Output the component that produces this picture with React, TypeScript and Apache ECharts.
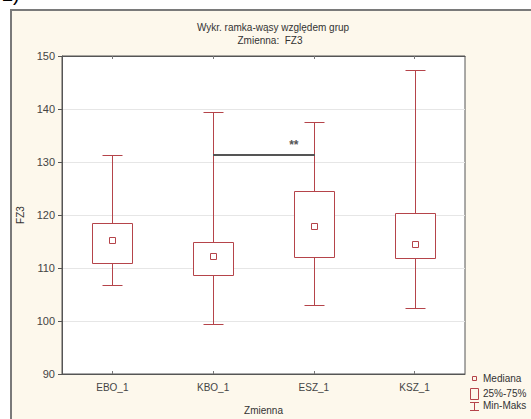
import React, { useEffect, useRef } from "react";
import * as echarts from "echarts";

const categories = ["EBO_1", "KBO_1", "ESZ_1", "KSZ_1"];
const minVals = [106.8, 99.5, 103.0, 102.5];
const q1Vals = [111.0, 108.6, 112.1, 111.9];
const medianVals = [115.3, 112.2, 117.9, 114.5];
const q3Vals = [118.4, 114.9, 124.6, 120.3];
const maxVals = [131.3, 139.4, 137.6, 147.4];
const sigFrom = [1];
const sigTo = [2];
const sigLevel = [131.4];
const sigLabel = ["**"];
const legendLabels = ["Mediana", "25%-75%", "Min-Maks"];

const RED = "#b5444a";
const FONT = "Liberation Sans, Arial, sans-serif";

const crisp = (v: number) => Math.round(v) + 0.5;

export default function App() {
  const ref = useRef<HTMLDivElement>(null);
  useEffect(() => {
    if (!ref.current) return;
    const chart = echarts.init(ref.current, undefined, { renderer: "svg" });
    const boxData = categories.map((_, i) => [i, minVals[i], q1Vals[i], medianVals[i], q3Vals[i], maxVals[i]]);
    const sigData = sigFrom.map((f, i) => [f, sigTo[i], sigLevel[i]]);
    const option: any = {
      animation: false,
      backgroundColor: "transparent",
      textStyle: { fontFamily: FONT },
      grid: {
        left: 62,
        right: 66,
        top: 56,
        bottom: 45,
        outerBoundsMode: "none",
        containLabel: false,
        show: true,
        backgroundColor: "#ffffff",
        borderColor: "#555",
        borderWidth: 1,
      },
      xAxis: [
        {
          type: "category",
          data: categories,
          boundaryGap: true,
          name: "Zmienna",
          nameLocation: "middle",
          nameGap: 31,
          nameTextStyle: { fontSize: 10, color: "#333", fontFamily: FONT },
          axisLine: { show: true, lineStyle: { color: "#555", width: 1 } },
          axisTick: { show: true, alignWithLabel: true, inside: true, length: 3, lineStyle: { color: "#777" } },
          axisLabel: { fontSize: 10, color: "#444", margin: 8, fontFamily: FONT },
          splitLine: { show: false },
        },
        {
          type: "category",
          data: categories,
          position: "top",
          boundaryGap: true,
          axisLine: { show: true, lineStyle: { color: "#555", width: 1 } },
          axisTick: { show: true, alignWithLabel: true, inside: true, length: 3, lineStyle: { color: "#777" } },
          axisLabel: { show: false },
          splitLine: { show: false },
        },
      ],
      yAxis: {
        type: "value",
        min: 90,
        max: 150,
        interval: 10,
        name: "FZ3",
        nameLocation: "middle",
        nameGap: 35,
        nameTextStyle: { fontSize: 10, color: "#333", fontFamily: FONT },
        axisLine: { show: true, lineStyle: { color: "#555", width: 1 } },
        axisTick: { show: true, inside: false, length: 4, lineStyle: { color: "#555" } },
        axisLabel: { fontSize: 11, color: "#444", margin: 7, fontFamily: FONT },
        splitLine: { show: true, lineStyle: { color: "#e6e6e6", width: 1 } },
      },
      graphic: [
        {
          type: "text",
          left: 2,
          top: -16,
          style: { text: "2)", fontSize: 20, fill: "#000", fontFamily: FONT },
        },
        {
          type: "text",
          x: 273,
          y: 27,
          style: { text: "Wykr. ramka-wąsy względem grup", fontSize: 10, fill: "#333", fontFamily: FONT, textAlign: "center", textVerticalAlign: "middle" },
        },
        {
          type: "text",
          x: 270,
          y: 40,
          style: { text: "Zmienna:  FZ3", fontSize: 10, fill: "#333", fontFamily: FONT, textAlign: "center", textVerticalAlign: "middle" },
        },
        { type: "rect", shape: { x: 472.5, y: 376.5, width: 4, height: 4 }, style: { fill: "none", stroke: RED, lineWidth: 1 } },
        { type: "rect", shape: { x: 470.5, y: 388.5, width: 8, height: 11 }, style: { fill: "none", stroke: RED, lineWidth: 1 } },
        { type: "line", shape: { x1: 474.5, y1: 402, x2: 474.5, y2: 411 }, style: { stroke: RED, lineWidth: 1 } },
        { type: "line", shape: { x1: 470, y1: 402.5, x2: 479, y2: 402.5 }, style: { stroke: RED, lineWidth: 1 } },
        { type: "line", shape: { x1: 470, y1: 410.5, x2: 479, y2: 410.5 }, style: { stroke: RED, lineWidth: 1 } },
        { type: "text", x: 483, y: 378.5, style: { text: legendLabels[0], fontSize: 10, fill: "#333", fontFamily: FONT, textVerticalAlign: "middle" } },
        { type: "text", x: 483, y: 393, style: { text: legendLabels[1], fontSize: 10, fill: "#333", fontFamily: FONT, textVerticalAlign: "middle" } },
        { type: "text", x: 483, y: 405, style: { text: legendLabels[2], fontSize: 10, fill: "#333", fontFamily: FONT, textVerticalAlign: "middle" } },
      ],
      series: [
        {
          type: "custom",
          name: "box",
          xAxisIndex: 0,
          yAxisIndex: 0,
          data: boxData,
          encode: { x: 0, y: [1, 2, 3, 4, 5] },
          renderItem: (params: any, api: any) => {
            const i = api.value(0);
            const pMin = api.coord([i, api.value(1)]);
            const pQ1 = api.coord([i, api.value(2)]);
            const pMed = api.coord([i, api.value(3)]);
            const pQ3 = api.coord([i, api.value(4)]);
            const pMax = api.coord([i, api.value(5)]);
            const band = api.size([1, 0])[0];
            const bw = Math.round(band * 0.4);
            const cw = Math.round(band * 0.2);
            const x = crisp(pMin[0]);
            const ms = 6;
            const ls = { stroke: RED, lineWidth: 1, fill: "none" };
            const yMax = crisp(pMax[1]);
            const yQ3 = crisp(pQ3[1]);
            const yQ1 = crisp(pQ1[1]);
            const yMin = crisp(pMin[1]);
            const yMed = Math.round(pMed[1]);
            return {
              type: "group",
              children: [
                { type: "line", shape: { x1: x, y1: yMax, x2: x, y2: yQ3 }, style: ls },
                { type: "line", shape: { x1: x, y1: yQ1, x2: x, y2: yMin }, style: ls },
                { type: "line", shape: { x1: x - cw / 2, y1: yMax, x2: x + cw / 2, y2: yMax }, style: ls },
                { type: "line", shape: { x1: x - cw / 2, y1: yMin, x2: x + cw / 2, y2: yMin }, style: ls },
                { type: "rect", shape: { x: x - bw / 2, y: yQ3, width: bw, height: yQ1 - yQ3 }, style: { stroke: RED, lineWidth: 1, fill: "#fff" } },
                { type: "rect", shape: { x: x - ms / 2, y: yMed - ms / 2 + 0.5, width: ms, height: ms }, style: { stroke: RED, lineWidth: 1, fill: "#fff" } },
              ],
            };
          },
          z: 3,
        },
        {
          type: "custom",
          name: "sig",
          xAxisIndex: 0,
          yAxisIndex: 0,
          data: sigData,
          encode: { x: [0, 1], y: 2 },
          renderItem: (params: any, api: any) => {
            const p1 = api.coord([api.value(0), api.value(2)]);
            const p2 = api.coord([api.value(1), api.value(2)]);
            const y = Math.round(p1[1]);
            return {
              type: "group",
              children: [
                { type: "line", shape: { x1: Math.round(p1[0]), y1: y, x2: Math.round(p2[0]) + 1, y2: y }, style: { stroke: "#555", lineWidth: 2 } },
                {
                  type: "text",
                  x: p2[0] - 20,
                  y: y - 10,
                  style: { text: sigLabel[params.dataIndex], fontSize: 12, fontWeight: "bold", fill: "#555", fontFamily: FONT, textAlign: "center", textVerticalAlign: "middle" },
                },
              ],
            };
          },
          z: 4,
        },
      ],
    };
    chart.setOption(option);
    return () => chart.dispose();
  }, []);

  return (
    <div style={{ position: "fixed", left: 0, top: 0, width: 531, height: 419, background: "#ffffff", overflow: "hidden" }}>
      <div
        style={{
          position: "absolute",
          left: 10,
          top: 9,
          width: 600,
          height: 500,
          border: "2px solid #7a7a7a",
          background: "#fdf8ec",
        }}
      />
      <div ref={ref} style={{ position: "absolute", left: 0, top: 0, width: 531, height: 419 }} />
    </div>
  );
}
